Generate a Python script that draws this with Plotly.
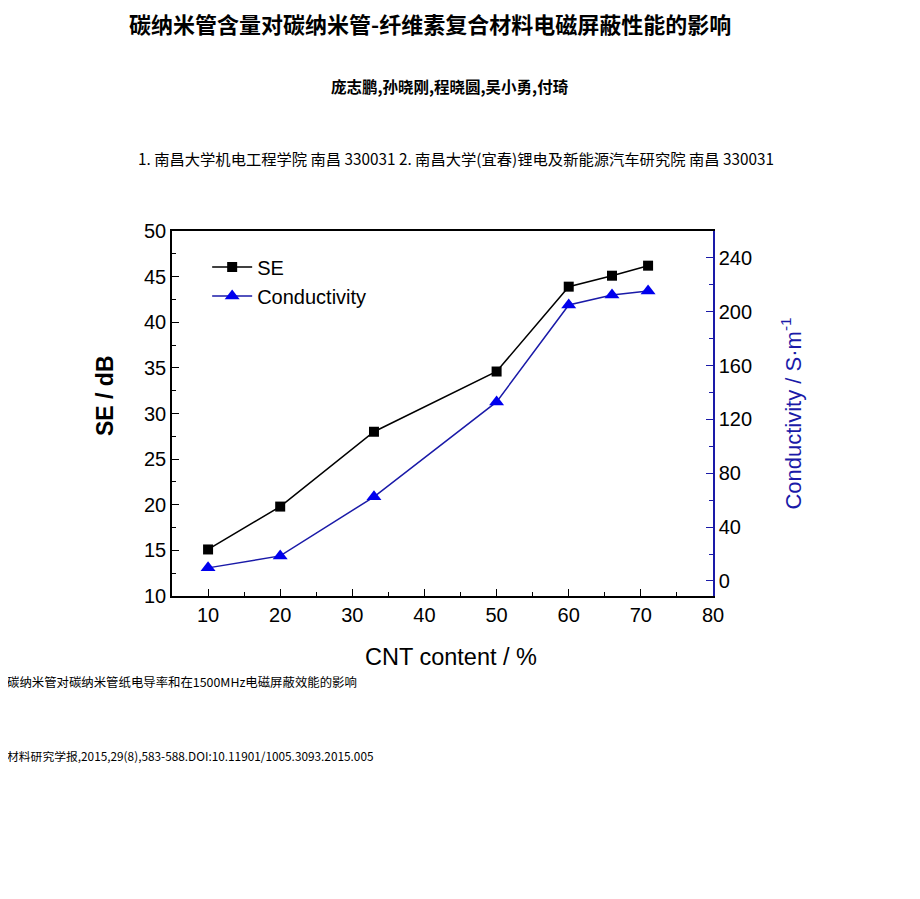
import plotly.graph_objects as go

cnt = [10, 20, 33, 50, 60, 66, 71]
se_db = [15.1, 19.8, 28.0, 34.6, 43.9, 45.1, 46.2]
conductivity = [9.7, 18.6, 62.5, 133, 205, 212.5, 215.5]

title = "碳纳米管含量对碳纳米管-纤维素复合材料电磁屏蔽性能的影响"
authors = "庞志鹏,孙晓刚,程晓圆,吴小勇,付琦"
affil = "1. 南昌大学机电工程学院 南昌 330031 2. 南昌大学(宜春)锂电及新能源汽车研究院 南昌 330031"
caption = "碳纳米管对碳纳米管纸电导率和在1500MHz电磁屏蔽效能的影响"
citation = "材料研究学报,2015,29(8),583-588.DOI:10.11901/1005.3093.2015.005"
x_title = "CNT content / %"
y_title = "SE / dB"

AX = "Liberation Sans, Arial, sans-serif"
CJK = "Noto Sans CJK SC, sans-serif"
blue = "#1a1aa8"

OFF = 8  # page body margin
L, R, T, B = 172 - OFF, 713 - OFF, 231 - OFF, 596 - OFF
W, H = 920, 899

fig = go.Figure()
fig.add_trace(go.Scatter(x=cnt, y=se_db, name="SE", mode="lines+markers",
                         line=dict(color="black", width=1.5),
                         marker=dict(symbol="square", size=10, color="black")))
fig.add_trace(go.Scatter(x=cnt, y=conductivity, name="Conductivity", mode="lines+markers",
                         yaxis="y2",
                         line=dict(color=blue, width=1.5),
                         marker=dict(symbol="triangle-up", size=13, color="#0000ee")))

fig.update_layout(
    width=W, height=H,
    margin=dict(l=L, r=W - R, t=T, b=H - B),
    paper_bgcolor="white", plot_bgcolor="white",
    showlegend=True,
    legend=dict(x=0.065, y=0.955, xanchor="left", yanchor="top",
                font=dict(family=AX, size=20, color="black"),
                bgcolor="rgba(0,0,0,0)", tracegroupgap=0, itemwidth=40),
    xaxis=dict(range=[5, 80], tickvals=[10, 20, 30, 40, 50, 60, 70, 80],
               ticks="inside", ticklen=7, tickcolor="black",
               minor=dict(ticks="inside", ticklen=4, tickvals=[15, 25, 35, 45, 55, 65, 75], tickcolor="black"),
               showline=True, linecolor="black", linewidth=1.5, mirror=True,
               showgrid=False, zeroline=False,
               tickfont=dict(family=AX, size=20, color="black")),
    yaxis=dict(range=[10, 50], tickvals=[10, 15, 20, 25, 30, 35, 40, 45, 50],
               ticks="inside", ticklen=7, tickcolor="black",
               minor=dict(ticks="inside", ticklen=4, dtick=2.5, tickcolor="black"),
               showline=True, linecolor="black", linewidth=1.5,
               showgrid=False, zeroline=False,
               tickfont=dict(family=AX, size=20, color="black")),
    yaxis2=dict(range=[-11.2, 260], overlaying="y", side="right",
                tickvals=[0, 40, 80, 120, 160, 200, 240],
                ticks="inside", ticklen=7, tickcolor=blue,
                minor=dict(ticks="inside", ticklen=4, dtick=20, tickcolor=blue),
                showline=True, linecolor=blue, linewidth=1.5,
                showgrid=False, zeroline=False,
                tickfont=dict(family=AX, size=20, color="black"),
                title=dict(text="Conductivity / S·m<sup>-1</sup>", font=dict(family=AX, size=22, color=blue), standoff=34)),
)

def to_paper(x, y):
    px, py = x - OFF, y - OFF
    return (px - L) / (R - L), (B - py) / (B - T)

annots = [
    dict(text="<b>" + title + "</b>", x=430, y=23, size=22, anchor="center", font=CJK),
    dict(text="<b>" + authors + "</b>", x=450, y=86, size=15.5, anchor="center", font=CJK),
    dict(text=affil, x=456, y=158, size=15.3, anchor="center", font=CJK),
    dict(text=caption, x=5, y=682, size=12.4, anchor="left", font=CJK),
    dict(text=citation, x=5, y=755, size=11.8, anchor="left", font=CJK),
    dict(text=x_title, x=451, y=657, size=23.5, anchor="center", font=AX),
]
for a in annots:
    xp, yp = to_paper(a["x"], a["y"])
    fig.add_annotation(text=a["text"], x=xp, y=yp,
                       xref="paper", yref="paper", xanchor=a["anchor"], yanchor="middle",
                       showarrow=False, font=dict(family=a["font"], size=a["size"], color="black"))

xp, yp = to_paper(105, 396)
fig.add_annotation(text="<b>" + y_title + "</b>", x=xp, y=yp, xref="paper", yref="paper",
                   xanchor="center", yanchor="middle", textangle=-90, showarrow=False,
                   font=dict(family=AX, size=23, color="black"))

fig.write_html("out.html")
